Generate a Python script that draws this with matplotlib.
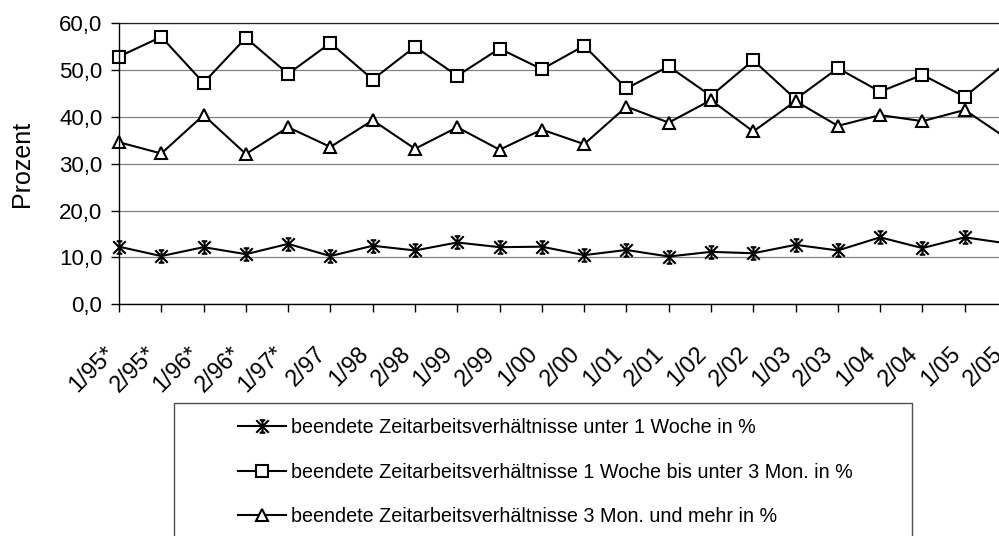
import matplotlib
matplotlib.use("Agg")
import matplotlib.pyplot as plt
from matplotlib.path import Path
from matplotlib.patches import Rectangle
from matplotlib.ticker import FuncFormatter
from matplotlib.transforms import ScaledTranslation

plt.rcParams['font.family'] = ['Liberation Sans', 'DejaVu Sans']

categories = ["1/95*", "2/95*", "1/96*", "2/96*", "1/97*", "2/97", "1/98", "2/98",
              "1/99", "2/99", "1/00", "2/00", "1/01", "2/01", "1/02", "2/02",
              "1/03", "2/03", "1/04", "2/04", "1/05", "2/05"]

under_1_week = [12.3, 10.3, 12.2, 10.7, 12.9, 10.3, 12.5, 11.5, 13.2, 12.2, 12.3,
                10.5, 11.6, 10.2, 11.2, 10.9, 12.7, 11.5, 14.3, 12.0, 14.3, 13.0]
week_to_3_months = [52.9, 57.1, 47.3, 56.9, 49.2, 55.8, 48.0, 55.0, 48.8, 54.6, 50.2,
                    55.2, 46.1, 50.8, 44.5, 52.1, 43.8, 50.4, 45.4, 49.0, 44.3, 51.7]
over_3_months = [34.6, 32.2, 40.4, 32.1, 37.8, 33.6, 39.3, 33.2, 37.8, 33.0, 37.3,
                 34.2, 42.2, 38.8, 43.6, 36.9, 43.4, 38.1, 40.4, 39.1, 41.5, 35.4]

labels = ["beendete Zeitarbeitsverhältnisse unter 1 Woche in %",
          "beendete Zeitarbeitsverhältnisse 1 Woche bis unter 3 Mon. in %",
          "beendete Zeitarbeitsverhältnisse 3 Mon. und mehr in %"]
yticks = [0, 10, 20, 30, 40, 50, 60]

# star marker: X + vertical bar with small caps
star = Path([(-1, -1), (1, 1), (-1, 1), (1, -1), (0, -1), (0, 1),
             (-0.45, 1), (0.45, 1), (-0.45, -1), (0.45, -1)],
            [Path.MOVETO, Path.LINETO, Path.MOVETO, Path.LINETO, Path.MOVETO, Path.LINETO,
             Path.MOVETO, Path.LINETO, Path.MOVETO, Path.LINETO])

W, H = 999, 536
fig = plt.figure(figsize=(W / 100, H / 100), dpi=100)
ax = fig.add_axes([119 / W, 1 - 304.3 / H, (1007 - 119) / W, (304.3 - 23.3) / H])

x = list(range(len(categories)))
common = dict(color='black', lw=1.5, mfc='white', mec='black', mew=1.5, clip_on=False)
ax.plot(x, under_1_week, marker=star, ms=9, label=labels[0], **common)
ax.plot(x, week_to_3_months, marker='s', ms=8, label=labels[1], **common)
ax.plot(x, over_3_months, marker='^', ms=8.5, label=labels[2], **common)

ax.set_xlim(0, len(categories) - 1)
ax.set_ylim(0, 60)
ax.set_yticks(yticks)
ax.yaxis.set_major_formatter(FuncFormatter(lambda v, p: f"{v:.1f}".replace('.', ',')))
ax.set_xticks(x)
ax.grid(axis='y', color='#808080', lw=0.9)
ax.set_axisbelow(True)
ax.spines['right'].set_visible(False)
ax.spines['top'].set_color('#202020')
ax.spines['top'].set_linewidth(0.9)
ax.spines['left'].set_linewidth(1.0)
ax.spines['bottom'].set_linewidth(1.0)
ax.tick_params(axis='y', direction='out', length=6, width=1, labelsize=16, pad=6)
ax.tick_params(axis='x', direction='out', length=6, width=1, labelsize=16.8, pad=27)
ax.set_xticklabels(categories, rotation=45, ha='right', va='center', rotation_mode='anchor')
shift = ScaledTranslation(-8 / 100, 0, fig.dpi_scale_trans)
for lab in ax.get_xticklabels():
    lab.set_transform(lab.get_transform() + shift)
ax.set_ylabel("Prozent", fontsize=18, labelpad=18)

fig.patches.append(Rectangle((174 / W, -0.1), (912 - 174) / W, 1 - 403 / H + 0.1,
                             transform=fig.transFigure, fill=False, edgecolor='#505050', lw=1))
ax.legend(loc='upper left', bbox_to_anchor=(238 / W, 1 - 418 / H), bbox_transform=fig.transFigure,
          frameon=False, fontsize=14.2, borderpad=0, handlelength=2.43, handletextpad=0.25,
          labelspacing=1.3, borderaxespad=0)

fig.savefig("out.png", dpi=100)
